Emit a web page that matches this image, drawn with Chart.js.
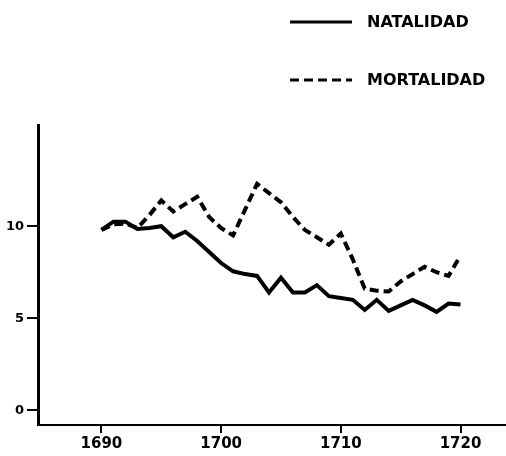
<!DOCTYPE html>
<html>
<head>
<meta charset="utf-8">
<script src="https://cdn.jsdelivr.net/npm/chart.js@4"></script>
<style>
  html, body { margin: 0; padding: 0; background: #fff; }
  #wrap { width: 506px; height: 456px; }
</style>
</head>
<body>
<div id="wrap"><canvas id="demoChart" width="506" height="456"></canvas></div>
<script>
// Natalidad / mortalidad, 1690-1720
const years = [1690, 1691, 1692, 1693, 1694, 1695, 1696, 1697, 1698, 1699,
	1700, 1701, 1702, 1703, 1704, 1705, 1706, 1707, 1708, 1709,
	1710, 1711, 1712, 1713, 1714, 1715, 1716, 1717, 1718, 1719, 1720];
const natalidad = [9.8, 10.25, 10.25, 9.85, 9.9, 10.0, 9.4, 9.7, 9.2, 8.6,
	8.0, 7.55, 7.4, 7.3, 6.4, 7.2, 6.4, 6.4, 6.8, 6.2,
	6.1, 6.0, 5.45, 6.0, 5.4, 5.7, 6.0, 5.7, 5.35, 5.8, 5.75];
const mortalidad = [9.8, 10.1, 10.15, 9.9, 10.6, 11.4, 10.8, 11.2, 11.6, 10.5,
	9.9, 9.5, 10.9, 12.3, 11.8, 11.3, 10.5, 9.8, 9.4, 9.0,
	9.6, 8.2, 6.6, 6.5, 6.45, 7.0, 7.4, 7.8, 7.5, 7.3, 8.4];
const xTicks = [1690, 1700, 1710, 1720];
const yTicks = [0, 5, 10];

const ink = '#000';
const tickFont = { family: "'DejaVu Sans', sans-serif", weight: 'bold' };

// hand-drawn style legend, top right
const legendPlugin = {
	id: 'sideLegend',
	afterDraw(chart) {
		const ctx = chart.ctx;
		const rows = [22, 80];
		chart.data.datasets.forEach(function(ds, i) {
			const y = rows[i];
			ctx.save();
			ctx.strokeStyle = ink;
			ctx.lineWidth = 3;
			ctx.setLineDash(ds.borderDash || []);
			ctx.beginPath();
			ctx.moveTo(290, y);
			ctx.lineTo(352, y);
			ctx.stroke();
			ctx.setLineDash([]);
			ctx.fillStyle = ink;
			ctx.font = "bold 16px 'DejaVu Sans', sans-serif";
			ctx.textBaseline = 'middle';
			ctx.fillText(ds.label, 367, y + 1);
			ctx.restore();
		});
	}
};

const data = {
	datasets: [
		{
			label: 'NATALIDAD',
			data: years.map((y, i) => ({ x: y, y: natalidad[i] })),
			borderColor: ink,
			borderWidth: 4,
			pointRadius: 0,
			tension: 0
		},
		{
			label: 'MORTALIDAD',
			data: years.map((y, i) => ({ x: y, y: mortalidad[i] })),
			borderColor: ink,
			borderWidth: 4,
			borderDash: [9, 5],
			pointRadius: 0,
			tension: 0
		}
	]
};

const config = {
	type: 'line',
	data: data,
	plugins: [legendPlugin],
	options: {
		responsive: false,
		animation: false,
		layout: { padding: { top: 125, right: 0, left: 0, bottom: 0 } },
		plugins: {
			legend: { display: false },
			tooltip: { enabled: false }
		},
		scales: {
			x: {
				type: 'linear',
				min: 1684.7,
				max: 1723.8,
				afterBuildTicks: function(scale) {
					scale.ticks = xTicks.map(v => ({ value: v }));
				},
				afterFit: function(scale) { scale.height = 31; },
				ticks: {
					color: ink,
					font: Object.assign({ size: 15 }, tickFont),
					padding: 2,
					maxRotation: 0,
					callback: v => String(v)
				},
				grid: {
					drawOnChartArea: false,
					color: ink,
					lineWidth: 2,
					tickLength: 8
				},
				border: { display: true, color: ink, width: 2 }
			},
			y: {
				type: 'linear',
				min: -0.8,
				max: 15.5,
				afterBuildTicks: function(scale) {
					scale.ticks = yTicks.map(v => ({ value: v }));
				},
				afterFit: function(scale) { scale.width = 38; },
				ticks: {
					color: ink,
					font: Object.assign({ size: 13 }, tickFont),
					padding: 3
				},
				grid: {
					drawOnChartArea: false,
					color: ink,
					lineWidth: 2,
					tickLength: 11
				},
				border: { display: true, color: ink, width: 3 }
			}
		}
	}
};

const chart = new Chart(document.getElementById('demoChart').getContext('2d'), config);
</script>
</body>
</html>
